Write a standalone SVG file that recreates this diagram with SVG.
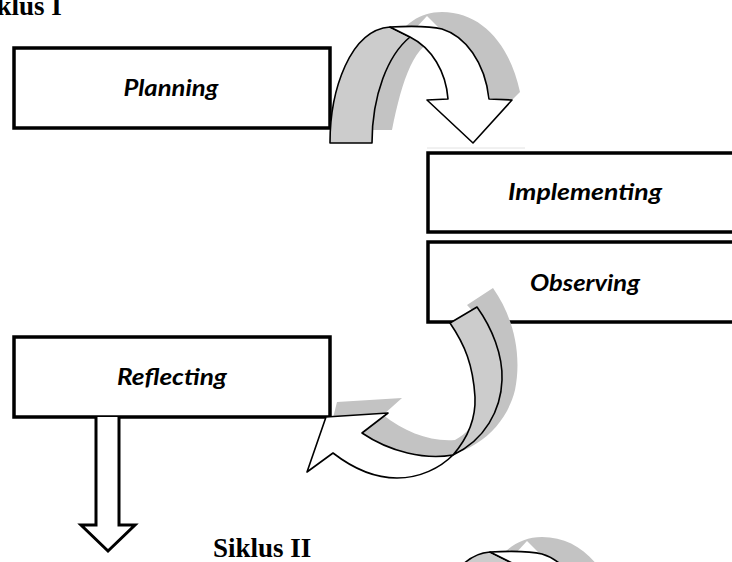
<svg xmlns="http://www.w3.org/2000/svg" width="732" height="562" viewBox="0 0 732 562">
<style>
.box{fill:#fff;stroke:#000;stroke-width:3.5}
.lbl{font-family:Lato,"Open Sans",sans-serif;font-weight:bold;font-style:italic;font-size:22px;fill:#000;text-anchor:middle}
.title{font-family:"Liberation Serif","Times New Roman",serif;font-weight:bold;font-size:27px;fill:#000}
.shadow{fill:#c3c3c3;stroke:none}
.face{fill:#cccccc;stroke:#000;stroke-width:1.6;stroke-linejoin:round}
.front{fill:#fff;stroke:#000;stroke-width:1.6;stroke-linejoin:round}
.down{fill:#fff;stroke:#000;stroke-width:3;stroke-linejoin:miter}
</style>
<defs>
<g id="curveDown">
<path class="shadow" d="M372,130 C372,62 398,12 442,12 C482,12 510,45 520,92 L512,100 L490,98 C485,70 470,42 440,40 C415,40 402,80 392,130 Z"/>
<polygon points="415,29 427,16 440,29" fill="#fff"/>
<path class="face" d="M330,143 C330,90 350,30 390,27 L410,37 C388,55 372,95 372,143 Z"/>
<path class="front" d="M390,27 C410,26 430,26 442,29 C465,36 485,62 489,99 L512,100 L473,143 L427,100 L448,99 C446,72 432,48 410,37 Z"/>
</g>
</defs>
<rect width="732" height="562" fill="#fff"/>
<text class="title" x="-26" y="15">Siklus I</text>
<text class="title" x="213" y="557">Siklus II</text>
<g id="planning">
<rect class="box" x="14" y="48" width="316" height="80"/>
<text class="lbl" x="171" y="96" textLength="95" lengthAdjust="spacingAndGlyphs">Planning</text>
</g>
<g id="implementing">
<rect class="box" x="428" y="153" width="320" height="79"/>
<text class="lbl" x="585" y="200" textLength="154" lengthAdjust="spacingAndGlyphs">Implementing</text>
</g>
<g id="observing">
<rect class="box" x="428" y="242" width="320" height="80"/>
<text class="lbl" x="585" y="291" textLength="110" lengthAdjust="spacingAndGlyphs">Observing</text>
</g>
<g id="reflecting">
<rect class="box" x="14" y="337" width="316" height="80"/>
<text class="lbl" x="172" y="385" textLength="110" lengthAdjust="spacingAndGlyphs">Reflecting</text>
</g>
<g id="connectors">
<line x1="427" y1="148" x2="525" y2="148" stroke="#e2e2e2" stroke-width="1"/>
<use href="#curveDown"/>
<path class="shadow" d="M467,305 L493,288 C514,318 522,355 515,390 C505,430 470,458 420,460 L340,445 L330,430 L337,402 L402,398 L383,415 C405,432 430,442 455,440 C478,428 490,398 490,360 C488,335 480,318 467,305 Z"/>
<path class="face" d="M450,323 L477,307 C492,328 503,355 502,380 C501,410 485,440 453,455 C466,440 476,420 475,397 C473,365 465,345 450,323 Z"/>
<path class="front" d="M453,455 C425,460 390,452 362,433 L388,413 L326,417 L307,472 L333,453 C355,470 375,478 397,478 C420,478 440,468 453,455 Z"/>
<path class="down" d="M96,417 L96,525 L81,525 L108,551 L135,525 L119,525 L119,417"/>
<use href="#curveDown" transform="translate(100,525)"/>
</g>
</svg>
